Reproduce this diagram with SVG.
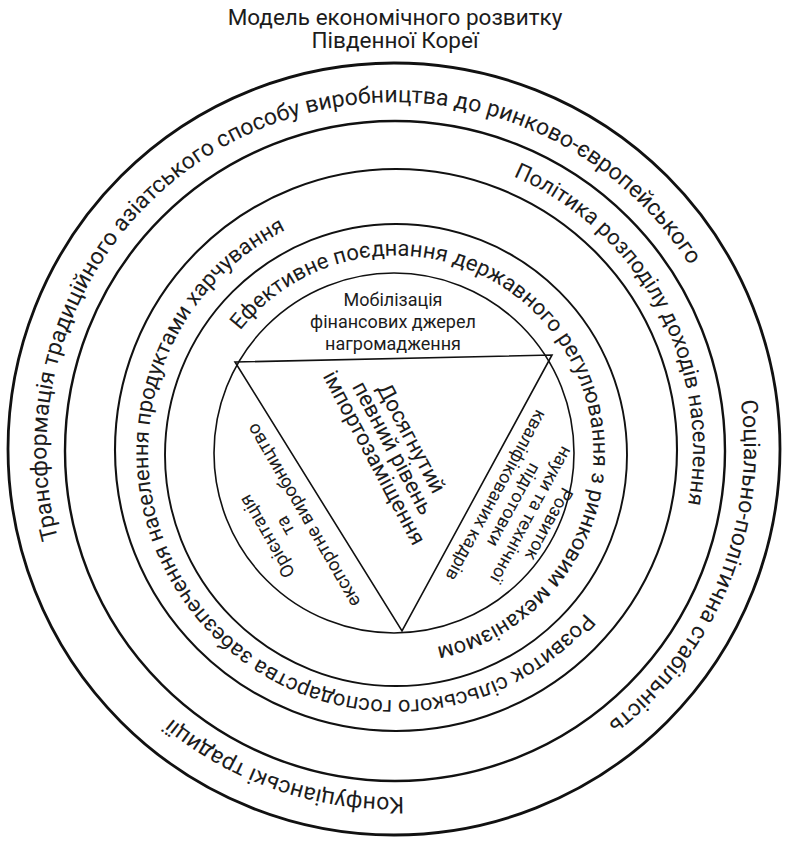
<svg xmlns="http://www.w3.org/2000/svg" xmlns:xlink="http://www.w3.org/1999/xlink" width="792" height="842" viewBox="0 0 792 842">
<style>
.ring{fill:none;stroke:#111;}
.t{font-family:Roboto,"Noto Sans","Liberation Sans",sans-serif;fill:#1c1c1c;}
.rt{font-size:22px;}
.ra{font-size:23px;}
.tri{fill:none;stroke:#111;stroke-width:1.6;stroke-linejoin:miter;}
</style>
<defs>
<path id="pA1" d="M527.1,772.0 A348,348 0 1 1 538.2,767.2"/>
<path id="pA2" d="M76.3,310.1 A348,348 0 1 1 71.7,321.3"/>
<path id="pA3" d="M510.0,121.6 A348,348 0 1 1 498.5,117.7"/>
<path id="pB" d="M129.5,585.3 A298,298 0 1 1 134.4,594.5"/>
<path id="pC" d="M594.1,302.8 A248,248 0 1 1 588.7,295.9"/>
<path id="pD" d="M225.3,555.0 A198,198 0 1 1 228.9,560.8"/>
</defs>
<rect width="792" height="842" fill="#fff"/>
<g id="title">
<text class="t" x="395" y="25" font-size="22.5" text-anchor="middle">Модель економічного розвитку</text>
<text class="t" x="395" y="48" font-size="22.5" text-anchor="middle">Південної Кореї</text>
</g>
<g id="ring-outer">
<circle class="ring" cx="394" cy="449" r="386" stroke-width="2.8"/>
<text class="t ra"><textPath xlink:href="#pA1" href="#pA1" startOffset="50%" text-anchor="middle">Трансформація традиційного азіатського способу виробництва до ринково-європейського</textPath></text>
<text class="t ra"><textPath xlink:href="#pA2" href="#pA2" startOffset="50%" text-anchor="middle">Соціально-політична стабільність</textPath></text>
<text class="t ra"><textPath xlink:href="#pA3" href="#pA3" startOffset="50%" text-anchor="middle">Конфуціанські традиції</textPath></text>
</g>
<g id="ring-2">
<circle class="ring" cx="395" cy="451" r="330" stroke-width="2.4"/>
<text class="t rt"><textPath xlink:href="#pB" href="#pB" startOffset="50%" text-anchor="middle">Політика розподілу доходів населення</textPath></text>
</g>
<g id="ring-3">
<circle class="ring" cx="396" cy="450" r="281" stroke-width="2.1"/>
<text class="t rt"><textPath xlink:href="#pC" href="#pC" startOffset="50%" text-anchor="middle">Розвиток сільського господарства забезпечення населення продуктами харчування</textPath></text>
</g>
<g id="ring-4">
<circle class="ring" cx="396" cy="455" r="231" stroke-width="1.9"/>
<text class="t rt"><textPath xlink:href="#pD" href="#pD" startOffset="50%" text-anchor="middle">Ефективне поєднання державного регулювання з ринковим механізмом</textPath></text>
</g>
<g id="inner-circle">
<circle class="ring" cx="394" cy="453" r="180" stroke-width="1.6"/>
</g>
<g id="connectors">
<polygon class="tri" points="235,362 552,355 402,631"/>
</g>
<g id="node-mobilization">
<text class="t" font-size="18" text-anchor="middle"><tspan x="393" y="306">Мобілізація</tspan><tspan x="393" y="328">фінансових джерел</tspan><tspan x="393" y="350">нагромадження</tspan></text>
</g>
<g id="node-center">
<text class="t" font-size="22" text-anchor="middle" transform="translate(393,448) rotate(62)"><tspan x="0" y="-13.5">Досягнутий</tspan><tspan x="0" y="7.5">певний рівень</tspan><tspan x="0" y="28.5">імпортозаміщення</tspan></text>
</g>
<g id="node-science">
<text class="t" font-size="18" text-anchor="middle" transform="translate(523,510) rotate(118.6)"><tspan x="0" y="-23.5">Розвиток</tspan><tspan x="0" y="-3.5">науки та технічної</tspan><tspan x="0" y="16.5">підготовки</tspan><tspan x="0" y="36.5">кваліфікованих кадрів</tspan></text>
</g>
<g id="node-export">
<text class="t" font-size="18.5" text-anchor="middle" transform="translate(285,526) rotate(-120)"><tspan x="0" y="-14.5">Орієнтація</tspan><tspan x="0" y="6.5">та</tspan><tspan x="0" y="27.5">експортне виробництво</tspan></text>
</g>
</svg>
